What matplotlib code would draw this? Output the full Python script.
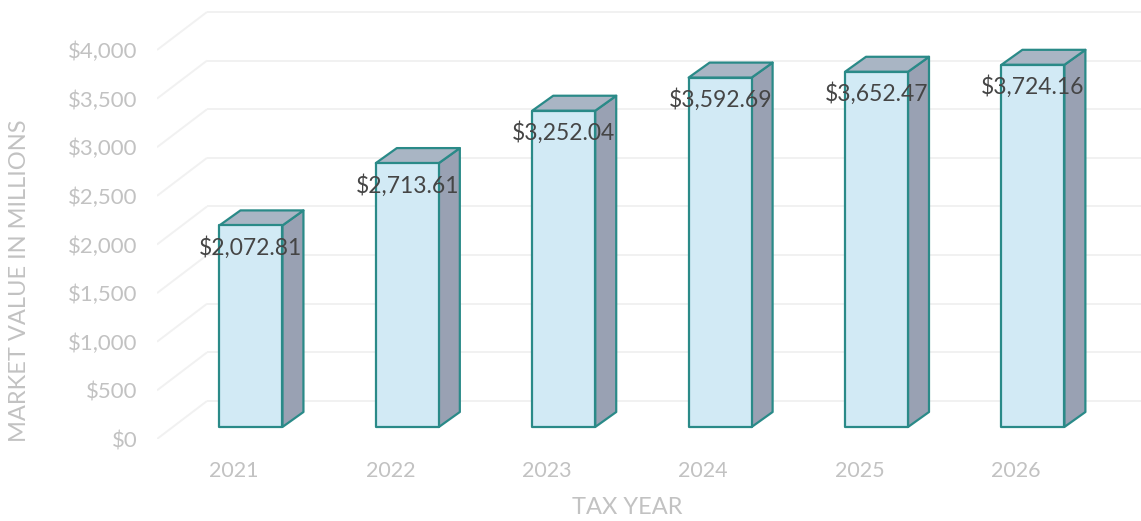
import matplotlib
matplotlib.use("Agg")
import matplotlib.pyplot as plt
from matplotlib.patches import Polygon

# Data
years = ["2021", "2022", "2023", "2024", "2025", "2026"]
values = [2072.81, 2713.61, 3252.04, 3592.69, 3652.47, 3724.16]
value_labels = ["$2,072.81", "$2,713.61", "$3,252.04", "$3,592.69", "$3,652.47", "$3,724.16"]
tick_values = [0, 500, 1000, 1500, 2000, 2500, 3000, 3500, 4000]
tick_labels = ["$0", "$500", "$1,000", "$1,500", "$2,000", "$2,500", "$3,000", "$3,500", "$4,000"]

# Style
FRONT = "#d2eaf5"
SIDE = "#99a1b3"
TOP = "#a9b5c4"
EDGE = "#2a8a88"
GRID = "#f1f1f1"
LIGHT_TEXT = "#c2c2c2"
VALUE_TEXT = "#454545"
FONT = "Lato"

W, H = 1141, 521
fig = plt.figure(figsize=(W / 100, H / 100), dpi=100)
fig.patch.set_facecolor("white")
ax = fig.add_axes([157 / W, 82 / H, (W - 157) / W, (H - 82) / H])
ax.set_xlim(-0.492, 5.8)
ax.set_ylim(0, 4514)
for s in ax.spines.values():
    s.set_visible(False)
ax.set_facecolor("none")

# pixel -> data unit conversion for the oblique depth axis
fig.canvas.draw()
p0 = ax.transData.transform((0, 0))
px_x = ax.transData.transform((1, 0))[0] - p0[0]
px_y = ax.transData.transform((0, 1000))[1] - p0[1]


def dx(px):
    return px / px_x


def dy(px):
    return px / px_y * 1000


wall_dx, wall_dy = dx(50), dy(38)
front_dx, front_dy = dx(17), dy(12)
bar_dx, bar_dy = dx(21), dy(15)
bar_w = dx(63)

# Back wall and left wall gridlines
x_left = ax.get_xlim()[0]
x_right = ax.get_xlim()[1]
for v in tick_values:
    ax.plot([x_left, x_left + wall_dx], [v, v + wall_dy], color=GRID, lw=1.4,
            zorder=1, solid_capstyle="butt")
    ax.plot([x_left + wall_dx, x_right], [v + wall_dy, v + wall_dy], color=GRID,
            lw=1.4, zorder=1, solid_capstyle="butt")

# Pseudo-3D bars
for i, v in enumerate(values):
    xl = i - bar_w / 2 + front_dx
    xr = i + bar_w / 2 + front_dx
    yb = front_dy
    yt = v + front_dy
    front = [(xl, yb), (xr, yb), (xr, yt), (xl, yt)]
    side = [(xr, yb), (xr + bar_dx, yb + bar_dy), (xr + bar_dx, yt + bar_dy), (xr, yt)]
    top = [(xl, yt), (xr, yt), (xr + bar_dx, yt + bar_dy), (xl + bar_dx, yt + bar_dy)]
    for pts, col in ((side, SIDE), (top, TOP), (front, FRONT)):
        ax.add_patch(Polygon(pts, closed=True, facecolor=col, edgecolor=EDGE,
                             lw=1.6, joinstyle="round", zorder=3))
    ax.text(i + front_dx, yt - dy(22), value_labels[i], ha="center", va="center",
            fontsize=16.5, color=VALUE_TEXT, family=FONT, zorder=5)

# Axes ticks
ax.set_yticks(tick_values)
ax.set_yticklabels(tick_labels)
ax.set_xticks(range(len(years)))
ax.set_xticklabels(years)
ax.tick_params(axis="y", length=0, pad=14, labelsize=16, labelcolor=LIGHT_TEXT)
ax.tick_params(axis="x", length=0, pad=16, labelsize=15.5, labelcolor=LIGHT_TEXT)
for lab in ax.get_xticklabels() + ax.get_yticklabels():
    lab.set_family(FONT)

fig.text(20 / W, 240 / H, "MARKET VALUE IN MILLIONS", rotation=90, ha="center",
         va="center", fontsize=17, color=LIGHT_TEXT, family=FONT)
fig.text(627 / W, 14 / H, "TAX YEAR", ha="center", va="center", fontsize=17,
         color=LIGHT_TEXT, family=FONT)

fig.savefig("out.png", dpi=100, facecolor="white")
